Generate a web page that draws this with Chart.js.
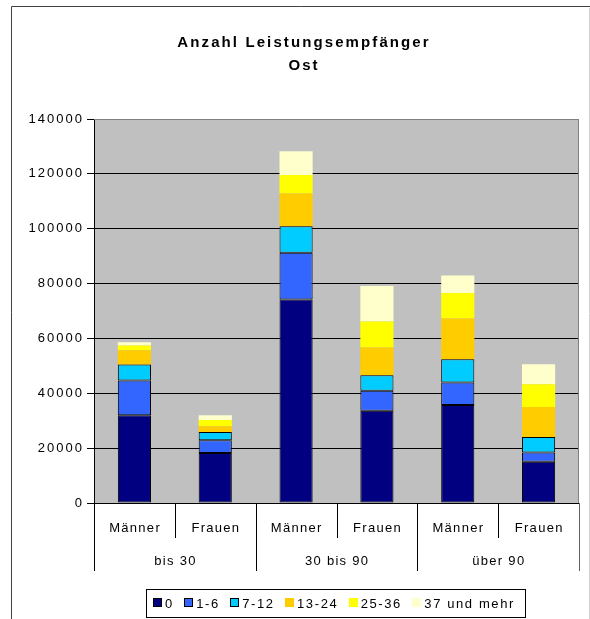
<!DOCTYPE html>
<html lang="de">
<head>
<meta charset="UTF-8" />
<title>Anzahl Leistungsempfänger Ost</title>
<script src="https://cdn.jsdelivr.net/npm/chart.js@4"></script>
<style>
	html, body { margin: 0; padding: 0; background: #ffffff; }
	canvas { display: block; }
</style>
</head>
<body>
<canvas id="chart" width="590" height="619"></canvas>
<script>
// categories: sex within age group
const groups = ['bis 30', '30 bis 90', 'über 90'];
const sexes = ['Männer', 'Frauen'];
const categories = ['Männer', 'Frauen', 'Männer', 'Frauen', 'Männer', 'Frauen'];

// series
const seriesNames = ['0', '1-6', '7-12', '13-24', '25-36', '37 und mehr'];
const s0 = [32000, 18200, 74200, 33600, 35700, 15000];
const s1to6 = [12700, 4700, 17000, 7300, 8200, 3400];
const s7to12 = [5800, 3000, 9700, 5700, 8500, 5700];
const s13to24 = [5200, 2100, 11900, 10100, 14900, 10900];
const s25to36 = [1700, 2300, 6800, 9500, 9300, 8300];
const s37plus = [1200, 1700, 8600, 12900, 6300, 7300];

const yTicks = [0, 20000, 40000, 60000, 80000, 100000, 120000, 140000];

const colors = ['#000080', '#3366ff', '#00ccff', '#ffcc00', '#ffff00', '#ffffcc'];
const outlined = [true, true, true, false, false, false];

const FONT = '"Liberation Sans", Arial, sans-serif';

const allSeries = [s0, s1to6, s7to12, s13to24, s25to36, s37plus];
const datasets = allSeries.map((values, i) => ({
	label: seriesNames[i],
	data: values,
	backgroundColor: colors[i],
	borderColor: '#000000',
	borderWidth: outlined[i] ? 1 : 0,
	borderSkipped: false,
	barPercentage: 0.41,
	categoryPercentage: 1,
}));

const text = (ctx, str, x, y, font, align, spacing) => {
	ctx.save();
	ctx.font = font;
	ctx.letterSpacing = spacing + 'px';
	ctx.fillStyle = '#000000';
	ctx.textBaseline = 'alphabetic';
	let w = ctx.measureText(str).width - spacing;
	let sx = x;
	if (align === 'center') sx = x - w / 2;
	if (align === 'right') sx = x - w;
	ctx.textAlign = 'left';
	ctx.fillText(str, sx, y);
	ctx.restore();
	return w;
};

const line = (ctx, x1, y1, x2, y2, color) => {
	ctx.save();
	ctx.strokeStyle = color;
	ctx.lineWidth = 1;
	ctx.beginPath();
	ctx.moveTo(x1, y1);
	ctx.lineTo(x2, y2);
	ctx.stroke();
	ctx.restore();
};

const decorPlugin = {
	id: 'decor',
	beforeDraw(chart) {
		const { ctx, chartArea: a } = chart;
		ctx.save();
		ctx.fillStyle = '#c0c0c0';
		ctx.fillRect(a.left, a.top, a.right - a.left, a.bottom - a.top);
		ctx.restore();
		ctx.letterSpacing = '2px';
	},
	beforeDatasetsDraw(chart) {
		const { ctx, chartArea: a } = chart;
		ctx.letterSpacing = '0px';
		line(ctx, a.left, a.top + 0.5, a.right, a.top + 0.5, '#808080');
		line(ctx, a.right - 0.5, a.top, a.right - 0.5, a.bottom, '#808080');
	},
	afterDraw(chart) {
		const { ctx, chartArea: a } = chart;
		const x = chart.scales.x;

		// outer frame
		line(ctx, 11.5, 6.5, 590, 6.5, '#404040');
		line(ctx, 11.5, 6.5, 11.5, 619, '#404040');
		line(ctx, 589.5, 8, 589.5, 619, '#d0d0d0');

		// title
		text(ctx, 'Anzahl Leistungsempfänger', 303, 47, 'bold 15px ' + FONT, 'center', 2.1);
		text(ctx, 'Ost', 303, 70, 'bold 15px ' + FONT, 'center', 2.1);

		// two-level category axis
		const centers = categories.map((_, i) => x.getPixelForValue(i));
		const bounds = [a.left];
		for (let i = 0; i < centers.length - 1; i++) bounds.push((centers[i] + centers[i + 1]) / 2);
		bounds.push(a.right);
		bounds.forEach((b, i) => {
			const bx = Math.round(b) + 0.5;
			const long = i % sexes.length === 0;
			line(ctx, bx, a.bottom, bx, long ? 571 : 538, i === bounds.length - 1 ? '#606060' : '#000000');
		});
		categories.forEach((c, i) => text(ctx, c, centers[i], 532, '13px ' + FONT, 'center', 1.3));
		groups.forEach((g, gi) => {
			const gx = (bounds[gi * sexes.length] + bounds[(gi + 1) * sexes.length]) / 2;
			text(ctx, g, gx, 565, '13px ' + FONT, 'center', 1.3);
		});

		// legend
		const font = '13px ' + FONT;
		const sp = 1.6;
		ctx.save();
		ctx.font = font;
		ctx.letterSpacing = sp + 'px';
		const widths = seriesNames.map(n => ctx.measureText(n).width - sp);
		ctx.restore();
		const box = 9, gapBox = 3, gapItem = 12;
		const content = widths.reduce((s, w) => s + box + gapBox + w, 0) + gapItem * (widths.length - 1);
		const padL = 7, padR = 12;
		const frameW = content + padL + padR;
		const frameL = Math.round(336 - frameW / 2);
		ctx.save();
		ctx.strokeStyle = '#000000';
		ctx.lineWidth = 1;
		ctx.strokeRect(frameL + 0.5, 589.5, Math.round(frameW), 28);
		ctx.restore();
		let lx = frameL + padL;
		seriesNames.forEach((n, i) => {
			ctx.save();
			ctx.fillStyle = colors[i];
			ctx.fillRect(Math.round(lx), 598, box, box);
			if (outlined[i]) {
				ctx.strokeStyle = '#000000';
				ctx.lineWidth = 1;
				ctx.strokeRect(Math.round(lx) + 0.5, 598.5, box - 1, box - 1);
			}
			ctx.restore();
			lx += box + gapBox;
			text(ctx, n, lx, 608, font, 'left', sp);
			lx += widths[i] + gapItem;
		});
	},
};

new Chart(document.getElementById('chart'), {
	type: 'bar',
	data: { labels: categories, datasets },
	options: {
		responsive: false,
		animation: false,
		layout: { padding: { top: 119, left: 0, right: 11, bottom: 0 } },
		plugins: {
			legend: { display: false },
			title: { display: false },
			tooltip: { enabled: false },
		},
		scales: {
			x: {
				stacked: true,
				afterFit(scale) { scale.height = 116; },
				ticks: { display: false },
				grid: { display: false },
				border: { display: true, color: '#000000', width: 1 },
			},
			y: {
				stacked: true,
				min: 0,
				max: 140000,
				afterFit(scale) { scale.width = 94; },
				afterBuildTicks(scale) { scale.ticks = yTicks.map(v => ({ value: v })); },
				ticks: {
					padding: 3,
					color: '#000000',
					font: { family: FONT, size: 13 },
					callback: v => String(v),
				},
				grid: { color: '#000000', lineWidth: 1, tickLength: 7, drawOnChartArea: true },
				border: { display: true, color: '#000000', width: 1 },
			},
		},
	},
	plugins: [decorPlugin],
});
</script>
</body>
</html>
